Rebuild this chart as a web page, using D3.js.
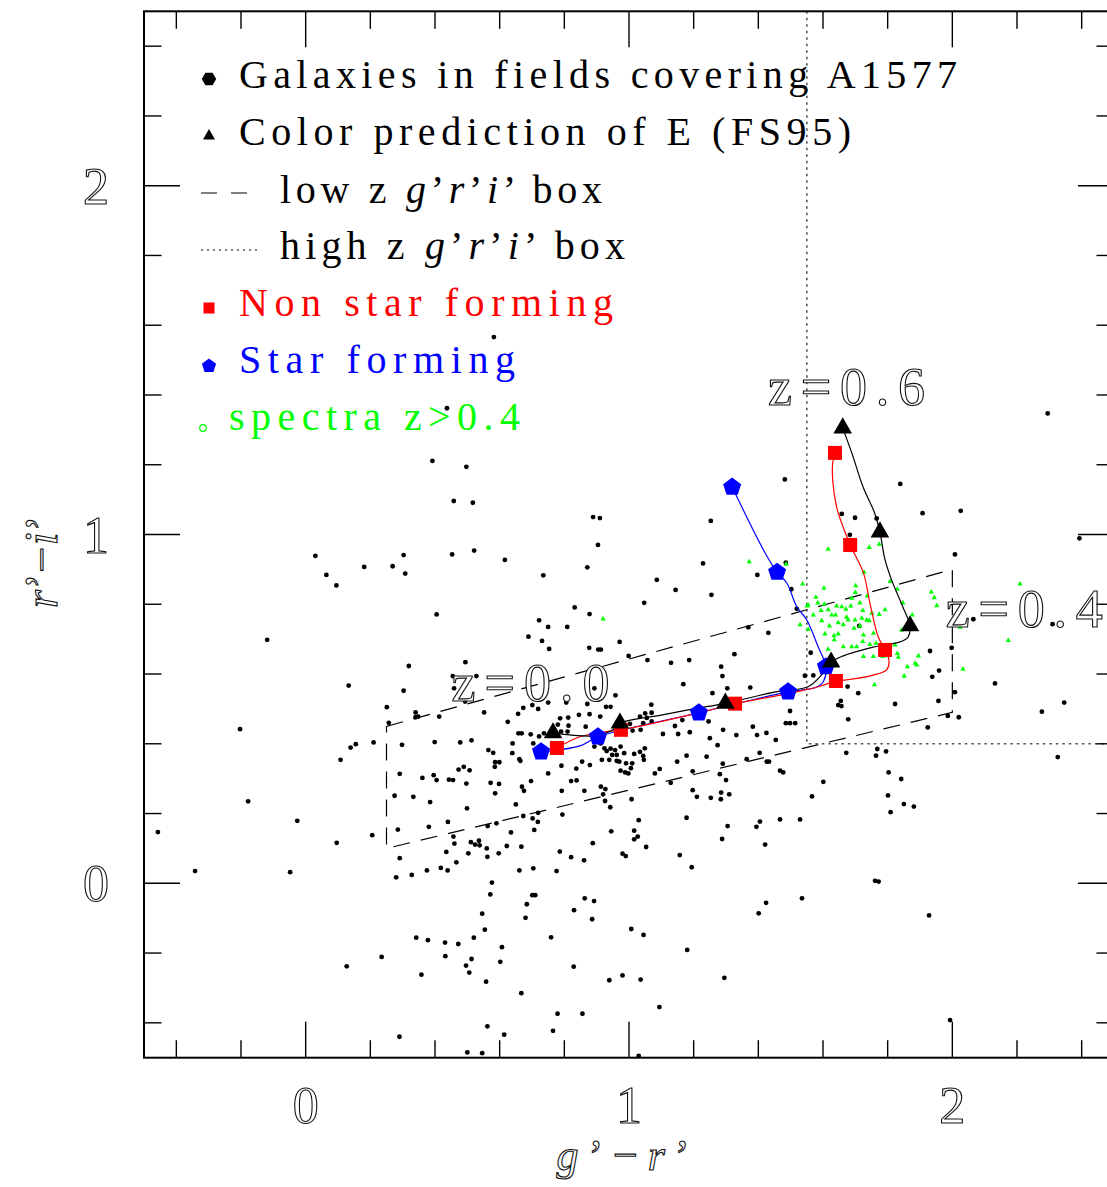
<!DOCTYPE html>
<html><head><meta charset="utf-8">
<script src="https://cdn.jsdelivr.net/npm/d3@7"></script>
<style>body{margin:0;background:#fff}</style>
</head><body><svg id="c" width="1107" height="1187"></svg>
<script>
// ---------------- data (g'-r', r'-i') ----------------
const galaxies = [
[0.437,1.362],[0.392,1.211],[0.497,1.194],[0.458,1.096],[0.517,1.091],[0.030,0.939],[0.303,0.941],[0.453,0.943],[0.521,0.954],[0.181,0.907],[0.269,0.909],[0.064,0.884],[0.308,0.888],[0.095,0.854],[0.405,0.771],[-0.119,0.698],[0.319,0.623],[0.494,0.634],[0.133,0.567],[0.303,0.552],[0.455,0.594],[0.459,0.559],[0.528,0.594],
[0.251,0.505],[0.493,0.521],[0.340,0.490],[0.340,0.476],[0.348,0.478],[0.413,0.478],[0.257,0.460],[-0.203,0.442],[0.210,0.404],[0.155,0.399],[0.139,0.389],[0.298,0.397],[0.399,0.405],[0.478,0.404],[0.513,0.410],[0.108,0.354],[0.291,0.314],[0.361,0.302],[0.396,0.310],[0.405,0.296],[0.443,0.297],[0.456,0.296],[0.473,0.326],[0.489,0.334],[0.507,0.324],[0.497,0.286],[-0.178,0.235],[0.275,0.251],[0.333,0.248],[0.385,0.233],[0.499,0.215],[-0.026,0.179],[-0.457,0.147],[0.096,0.116],[0.206,0.138],[0.285,0.154],[0.381,0.162],[0.440,0.176],[0.457,0.134],[0.460,0.114],[0.511,0.118],[0.524,0.111],[0.536,0.122],[0.538,0.109],[0.435,0.090],[0.503,0.086],[0.291,0.072],[0.466,0.060],[-0.342,0.035],[-0.048,0.032],[0.280,0.017],[0.328,0.024],[0.375,0.037],[0.418,0.044],[0.439,0.037],[0.342,-0.156],[0.378,-0.163],[0.431,-0.170],[0.472,-0.174],[0.520,-0.156],[0.235,-0.211],[0.432,-0.209],[0.513,-0.217],[0.127,-0.238],[0.496,-0.236],[0.506,-0.256],[0.358,-0.262],[0.290,-0.440],[0.500,-0.485],
[0.616,0.927],[0.871,0.906],[1.229,0.917],[0.735,0.883],[1.086,0.870],[1.397,0.884],[1.144,0.841],[1.255,0.827],[1.047,0.804],[0.832,0.791],[0.878,0.772],[0.722,0.754],[0.750,0.735],[0.809,0.735],[0.689,0.707],[0.731,0.695],[1.369,0.734],[1.431,0.718],[0.971,0.692],[0.753,0.672],[0.877,0.675],[0.905,0.670],[0.913,0.670],[0.999,0.652],[1.057,0.640],[1.130,0.632],[1.186,0.640],[1.326,0.657],[1.285,0.621],[1.289,0.594],[0.893,0.559],[1.168,0.571],[1.304,0.559],[1.375,0.561],[1.544,0.595],
[0.552,0.490],[0.673,0.503],[0.701,0.511],[0.719,0.500],[0.750,0.518],[0.806,0.518],[0.845,0.483],[0.871,0.514],[0.878,0.485],[0.958,0.539],[0.929,0.506],[0.943,0.506],[1.069,0.512],[1.050,0.487],[0.657,0.486],[0.625,0.463],[0.812,0.475],[0.787,0.473],[0.780,0.455],[0.813,0.452],[0.866,0.449],[0.911,0.478],[1.034,0.478],[1.055,0.474],[1.070,0.489],[1.003,0.457],[1.044,0.459],[1.070,0.464],[1.142,0.451],[1.165,0.468],[1.246,0.464],
[0.658,0.430],[0.668,0.430],[0.696,0.427],[0.722,0.421],[0.737,0.430],[0.790,0.435],[0.810,0.435],[1.011,0.438],[1.036,0.440],[1.105,0.428],[1.152,0.428],[1.188,0.433],[1.250,0.416],[1.291,0.440],[1.332,0.425],[1.383,0.449],[1.396,0.425],[1.425,0.431],[1.454,0.411],[1.498,0.494],[1.485,0.459],[1.498,0.459],[1.514,0.459],
[0.640,0.401],[0.704,0.401],[0.565,0.382],[0.580,0.374],[0.639,0.373],[0.661,0.356],[0.664,0.351],[0.586,0.347],[0.599,0.347],[0.585,0.334],[0.893,0.392],[0.912,0.401],[0.924,0.387],[0.931,0.379],[0.943,0.386],[0.948,0.368],[0.957,0.382],[0.962,0.368],[0.974,0.392],[0.985,0.373],[1.016,0.371],[1.034,0.377],[1.044,0.365],[1.049,0.387],[1.046,0.354],[0.916,0.354],[0.939,0.354],[0.962,0.351],[0.970,0.349],[0.991,0.344],[1.010,0.344],[0.855,0.349],[0.879,0.339],[0.837,0.329],[0.791,0.337],[0.750,0.315],[0.988,0.318],[0.998,0.315],[1.006,0.330],[0.974,0.323],[1.095,0.328],[1.080,0.315],[1.149,0.349],[1.240,0.363],[1.178,0.366],[1.274,0.396],[1.197,0.321],[1.290,0.343],[1.281,0.313],[1.300,0.296],[1.364,0.356],[1.404,0.374],[1.426,0.349],[1.433,0.349],[1.467,0.323],[1.477,0.318],
[0.572,0.288],[0.598,0.285],[0.669,0.277],[0.675,0.265],[0.697,0.293],[0.821,0.293],[0.838,0.295],[0.792,0.265],[0.862,0.265],[0.913,0.277],[0.927,0.270],[0.920,0.255],[0.586,0.258],[0.650,0.226],[0.926,0.236],[1.008,0.241],[0.942,0.218],[1.129,0.288],[1.197,0.267],[1.210,0.248],[1.253,0.245],[1.284,0.241],[1.285,0.260],[1.310,0.255],[0.719,0.202],[0.673,0.193],[0.702,0.186],[1.178,0.188],[1.467,0.183],[1.529,0.183],[1.485,0.919],[1.502,0.843],[1.519,0.787],[1.258,0.545],
[0.563,0.164],[0.590,0.172],[0.718,0.176],[0.707,0.153],[0.635,0.146],[0.560,0.100],[0.562,0.076],[0.597,0.086],[0.622,0.107],[0.667,0.105],[0.794,0.197],[0.945,0.149],[0.888,0.115],[0.786,0.091],[0.821,0.075],[0.861,0.066],[1.030,0.181],[1.016,0.151],[1.016,0.126],[1.027,0.134],[1.053,0.104],[0.980,0.085],[0.990,0.078],[1.157,0.081],[1.194,0.046],[1.288,0.127],[1.305,0.164],[1.394,0.162],[1.405,0.177],[1.421,0.111],[0.661,0.037],[0.704,0.043],[0.776,0.035],[0.576,0.002],[0.571,-0.032],[0.701,-0.034],[0.710,-0.034],[0.684,-0.060],[0.680,-0.099],[0.546,-0.087],[0.554,-0.133],[0.863,-0.043],[0.892,-0.051],[0.830,-0.077],[0.886,-0.103],[0.759,-0.155],[1.007,-0.131],[1.045,-0.148],[1.180,-0.191],[1.401,-0.086],[1.424,-0.056],[1.535,-0.043],[0.607,-0.183],[0.602,-0.225],[0.558,-0.282],[0.829,-0.239],[0.939,-0.278],[0.980,-0.264],[1.036,-0.276],[1.295,-0.271],[0.667,-0.315],[1.094,-0.355],[0.779,-0.374],[0.856,-0.374],[0.765,-0.423],[0.562,-0.410],[0.614,-0.434],[0.546,-0.487],[1.030,-0.495],
[1.655,0.523],[1.647,0.511],[1.657,0.508],[1.678,0.470],[1.823,0.514],[1.957,0.523],[1.986,0.480],[2.020,0.476],[1.924,0.447],[2.277,0.492],[2.346,0.518],[1.672,0.374],[1.768,0.385],[1.764,0.366],[1.795,0.378],[2.326,0.362],[1.803,0.318],[1.842,0.299],[1.601,0.291],[1.566,0.249],[1.801,0.252],[1.850,0.227],[1.881,0.220],[1.809,0.204],[1.761,0.007],[1.772,0.005],[1.928,-0.092],[1.993,-0.392],
[2.295,1.347],[1.482,1.158],[1.839,1.145],[1.253,1.039],[1.658,1.059],[1.699,1.048],[1.766,1.046],[1.908,1.061],[2.026,1.068],[1.683,0.999],[2.008,0.943],[1.712,0.738],[2.065,0.757],[2.310,0.743],[1.998,0.675],[1.931,0.666],[1.562,0.661],[1.570,0.596],[1.959,0.610],[1.938,0.592],[2.008,0.548],[2.132,0.573],[1.676,0.564],[1.709,0.545],[2.393,0.989],
[0.582,1.566],[0.889,1.050],[0.910,1.047],[0.904,0.970]
];

const spectraHighZ = [
[1.372,0.922],[1.486,0.915],[1.616,0.958],[1.696,0.958],[1.743,0.963],[1.774,0.972],[1.537,0.858],[1.603,0.846],[1.701,0.853],[1.727,0.892],[1.808,0.865],[1.830,0.843],[1.700,0.834],[1.737,0.824],[1.578,0.820],[1.551,0.795],[1.584,0.804],[1.604,0.800],[1.642,0.795],[1.671,0.786],[1.686,0.795],[1.714,0.804],[1.723,0.782],[1.751,0.774],[1.774,0.771],[1.792,0.784],[1.847,0.804],[1.935,0.835],[1.944,0.819],[1.952,0.796],[1.876,0.769],[1.570,0.769],[1.594,0.782],[1.639,0.769],[1.673,0.763],[1.699,0.755],[1.720,0.760],[1.735,0.755],[1.529,0.741],[1.596,0.753],[1.620,0.738],[1.647,0.747],[1.663,0.741],[1.678,0.755],[1.696,0.731],[1.714,0.738],[1.743,0.753],[1.554,0.728],[1.606,0.715],[1.634,0.710],[1.647,0.715],[1.725,0.712],[1.756,0.717],[1.635,0.698],[1.663,0.678],[1.689,0.678],[1.704,0.678],[1.723,0.693],[1.745,0.685],[1.764,0.688],[1.823,0.683],[1.843,0.726],[1.851,0.731],[1.830,0.659],[1.616,0.671],[1.725,0.650],[1.756,0.650],[1.785,0.650],[1.797,0.659],[1.833,0.648],[1.895,0.652],[1.885,0.631],[1.890,0.626],[1.861,0.621],[1.851,0.594],[1.759,0.569],[2.024,0.734],[2.033,0.614],[2.173,0.696],[2.209,0.858],[1.616,0.784],[1.627,0.769],[1.689,0.817],[1.658,0.793],[0.920,0.758],[1.554,0.798]
];

// E (FS95) colour prediction, markers at z = 0.0 ... 0.6 and its track
const eMarkers = [[0.765,0.431],[0.972,0.459],[1.298,0.516],[1.625,0.634],[1.869,0.738],[1.776,1.007],[1.661,1.305]];
const eTrack = [[0.765,0.431],[0.900,0.423],[0.950,0.440],[0.972,0.459],[1.100,0.482],[1.200,0.500],[1.298,0.516],[1.450,0.548],[1.555,0.564],[1.605,0.608],[1.625,0.634],[1.663,0.652],[1.703,0.664],[1.755,0.677],[1.838,0.692],[1.863,0.706],[1.869,0.738],[1.847,0.792],[1.812,0.870],[1.792,0.927],[1.776,1.007],[1.760,1.061],[1.724,1.136],[1.689,1.234],[1.661,1.305]];
// Non star forming
const nsfMarkers = [[0.777,0.388],[0.975,0.440],[1.328,0.515],[1.640,0.580],[1.792,0.669],[1.684,0.970],[1.637,1.234]];
const nsfTrack = [[0.777,0.388],[0.848,0.420],[0.931,0.435],[0.975,0.440],[1.209,0.487],[1.328,0.515],[1.498,0.545],[1.591,0.565],[1.640,0.580],[1.673,0.583],[1.755,0.597],[1.797,0.612],[1.804,0.640],[1.792,0.669],[1.771,0.706],[1.745,0.804],[1.725,0.890],[1.684,0.970],[1.662,1.022],[1.642,1.079],[1.630,1.156],[1.630,1.205],[1.637,1.234]];
// Star forming
const sfMarkers = [[0.728,0.377],[0.904,0.420],[1.216,0.489],[1.492,0.549],[1.609,0.621],[1.458,0.892],[1.319,1.136]];
const sfTrack = [[0.728,0.377],[0.848,0.394],[0.904,0.420],[1.216,0.489],[1.350,0.519],[1.492,0.549],[1.580,0.562],[1.601,0.578],[1.609,0.621],[1.585,0.678],[1.550,0.755],[1.519,0.793],[1.488,0.861],[1.458,0.892],[1.421,0.947],[1.319,1.136]];

// selection boxes
const lowZBox = [[0.25,0.45],[2.0,0.90],[2.0,0.49],[0.25,0.10]];
const highZBox = [[1.55,2.5],[1.55,0.40],[2.5,0.40]];

const xTicks = [-0.4,-0.2,0,0.2,0.4,0.6,0.8,1,1.2,1.4,1.6,1.8,2,2.2,2.4];
const yTicks = [-0.4,-0.2,0,0.2,0.4,0.6,0.8,1,1.2,1.4,1.6,1.8,2,2.2,2.4];
const xTickLabels = [0,1,2];
const yTickLabels = [0,1,2];
const zLabels = [{t:"z=0.6", x:1.43, y:1.370, w:157},{t:"z=0.4", x:1.98, y:0.734, w:157},{t:"z=0.0", x:0.451, y:0.524, w:158}];

// ---------------- drawing ----------------
const svg = d3.select("#c");
const x = d3.scaleLinear().domain([-0.5,2.5]).range([144,1114]);
const y = d3.scaleLinear().domain([-0.5,2.5]).range([1057.7,11.3]);
const SERIF = "'Liberation Serif','DejaVu Serif',serif";

svg.append("rect").attr("width",1107).attr("height",1187).attr("fill","#fff");
svg.append("clipPath").attr("id","pa").append("rect")
  .attr("x",x(-0.5)).attr("y",y(2.5)).attr("width",x(2.5)-x(-0.5)).attr("height",y(-0.5)-y(2.5));
const plot = svg.append("g").attr("clip-path","url(#pa)");

// boxes
const line = d3.line().x(d=>x(d[0])).y(d=>y(d[1]));
plot.append("path").attr("d", line(lowZBox)+"Z").attr("fill","none")
  .attr("stroke","#000").attr("stroke-width",1.2).attr("stroke-dasharray","17,11");
plot.append("path").attr("d", line(highZBox)).attr("fill","none")
  .attr("stroke","#555").attr("stroke-width",1.6).attr("stroke-dasharray","2.5,4");

// galaxies
plot.append("g").selectAll("circle").data(galaxies).join("circle")
  .attr("cx",d=>x(d[0])).attr("cy",d=>y(d[1])).attr("r",2.4).attr("fill","#000");

// spectra z>0.4
const tri = d3.symbol().type(d3.symbolTriangle);
plot.append("g").selectAll("path").data(spectraHighZ).join("path")
  .attr("transform",d=>`translate(${x(d[0])},${y(d[1])})`)
  .attr("d",tri.size(12)()).attr("fill","#00ff00");

// tracks
const curve = d3.line().x(d=>x(d[0])).y(d=>y(d[1])).curve(d3.curveCatmullRom.alpha(0.5));
plot.append("path").attr("d",curve(sfTrack)).attr("fill","none").attr("stroke","#0000ff").attr("stroke-width",1.2);
plot.append("path").attr("d",curve(nsfTrack)).attr("fill","none").attr("stroke","#ff0000").attr("stroke-width",1.2);
plot.append("path").attr("d",curve(eTrack)).attr("fill","none").attr("stroke","#000").attr("stroke-width",1.2);

// polygon symbol helper
function polygon(n, rot){
  return { draw(ctx, size){ const r=Math.sqrt(size);
    for(let i=0;i<n;i++){ const a=rot+i*2*Math.PI/n; const px=r*Math.cos(a), py=r*Math.sin(a);
      if(i===0) ctx.moveTo(px,py); else ctx.lineTo(px,py);} ctx.closePath(); } };
}
const pentagon = polygon(5,-Math.PI/2);
const hexagon = polygon(6,0);

plot.append("g").selectAll("path").data(sfMarkers).join("path")
  .attr("transform",d=>`translate(${x(d[0])},${y(d[1])})`)
  .attr("d",d3.symbol().type(pentagon).size(90)()).attr("fill","#0000ff");
plot.append("g").selectAll("rect").data(nsfMarkers).join("rect")
  .attr("x",d=>x(d[0])-7).attr("y",d=>y(d[1])-7).attr("width",14).attr("height",14).attr("fill","#ff0000");
plot.append("g").selectAll("path").data(eMarkers).join("path")
  .attr("transform",d=>`translate(${x(d[0])},${y(d[1])})`)
  .attr("d",tri.size(150)()).attr("fill","#000");

// z labels
plot.append("g").selectAll("text").data(zLabels).join("text")
  .attr("x",d=>x(d.x)).attr("y",d=>y(d.y)).text(d=>d.t)
  .attr("font-family",SERIF).attr("font-size",54)
  .attr("textLength",d=>d.w).attr("lengthAdjust","spacing")
  .attr("fill","#fff").attr("stroke","#111").attr("stroke-width",1.1);

// frame and ticks
svg.append("rect").attr("x",x(-0.5)).attr("y",y(2.5)).attr("width",x(2.5)-x(-0.5)).attr("height",y(-0.5)-y(2.5))
  .attr("fill","none").attr("stroke","#000").attr("stroke-width",2);
const tk = svg.append("g").attr("stroke","#000").attr("stroke-width",1.4);
const isMajor = v => Math.abs(v-Math.round(v))<1e-6;
xTicks.forEach(v=>{ const L = isMajor(v)?36:17.5;
  tk.append("line").attr("x1",x(v)).attr("x2",x(v)).attr("y1",y(-0.5)).attr("y2",y(-0.5)-L);
  tk.append("line").attr("x1",x(v)).attr("x2",x(v)).attr("y1",y(2.5)).attr("y2",y(2.5)+L);
});
yTicks.forEach(v=>{ const L = isMajor(v)?36:17.5;
  tk.append("line").attr("y1",y(v)).attr("y2",y(v)).attr("x1",x(-0.5)).attr("x2",x(-0.5)+L);
  tk.append("line").attr("y1",y(v)).attr("y2",y(v)).attr("x1",x(2.5)).attr("x2",x(2.5)-L);
});

// tick labels
const lblStyle = s => s.attr("font-family",SERIF).attr("font-size",52).attr("text-anchor","middle")
  .attr("fill","#fff").attr("stroke","#111").attr("stroke-width",1.1);
svg.append("g").selectAll("text").data(xTickLabels).join("text")
  .attr("x",d=>x(d)).attr("y",1123).text(d=>d).call(lblStyle);
svg.append("g").selectAll("text").data(yTickLabels).join("text")
  .attr("x",96).attr("y",d=>y(d)+18).text(d=>d).call(lblStyle);

// axis titles
const xt = svg.append("text").attr("x",623).attr("y",1170).attr("text-anchor","middle")
  .attr("font-family",SERIF).attr("font-size",44).attr("fill","#fff").attr("stroke","#111").attr("stroke-width",1.1)
  .attr("textLength",133).attr("lengthAdjust","spacing");
xt.append("tspan").attr("font-style","italic").text("g");
xt.append("tspan").text("’−");
xt.append("tspan").attr("font-style","italic").text("r");
xt.append("tspan").text("’");
const yt = svg.append("text").attr("transform","translate(57,562) rotate(-90)").attr("text-anchor","middle")
  .attr("font-family",SERIF).attr("font-size",46).attr("fill","#fff").attr("stroke","#111").attr("stroke-width",1.1)
  .attr("textLength",92).attr("lengthAdjust","spacing");
yt.append("tspan").attr("font-style","italic").text("r");
yt.append("tspan").text("’−");
yt.append("tspan").attr("font-style","italic").text("i");
yt.append("tspan").text("’");

// legend
const leg = svg.append("g").attr("font-family",SERIF).attr("font-size",40);
leg.append("path").attr("transform","translate(209,79)").attr("d",d3.symbol().type(hexagon).size(52)()).attr("fill","#000");
leg.append("path").attr("transform","translate(209,136)").attr("d",tri.size(62)()).attr("fill","#000");
leg.append("line").attr("x1",201).attr("x2",247).attr("y1",193).attr("y2",193).attr("stroke","#000").attr("stroke-width",1.2).attr("stroke-dasharray","16,14");
leg.append("line").attr("x1",201).attr("x2",258).attr("y1",250).attr("y2",250).attr("stroke","#000").attr("stroke-width",1.2).attr("stroke-dasharray","2,4");
leg.append("rect").attr("x",203.5).attr("y",302.5).attr("width",11).attr("height",11).attr("fill","#ff0000");
leg.append("path").attr("transform","translate(209,366)").attr("d",d3.symbol().type(pentagon).size(56)()).attr("fill","#0000ff");
leg.append("circle").attr("cx",203).attr("cy",428).attr("r",3.3).attr("fill","none").attr("stroke","#00ff00").attr("stroke-width",1.2);

const legendRows = [
  {y:88, x:239, w:718, color:"#000", parts:[["Galaxies in fields covering A1577",0]]},
  {y:145, x:239, w:612, color:"#000", parts:[["Color prediction of E (FS95)",0]]},
  {y:203, x:280, w:322, color:"#000", parts:[["low z ",0],["g",1],["’",0],["r",1],["’",0],["i",1],["’ box",0]]},
  {y:259, x:280, w:345, color:"#000", parts:[["high z ",0],["g",1],["’",0],["r",1],["’",0],["i",1],["’ box",0]]},
  {y:316, x:239, w:374, color:"#ff0000", parts:[["Non star forming",0]]},
  {y:373, x:239, w:276, color:"#0000ff", parts:[["Star forming",0]]},
  {y:430, x:229, w:291, color:"#00ff00", parts:[["spectra z>0.4",0]]}
];
legendRows.forEach(r=>{
  const t = leg.append("text").attr("x",r.x).attr("y",r.y).attr("fill",r.color)
    .attr("textLength",r.w).attr("lengthAdjust","spacing").attr("xml:space","preserve");
  r.parts.forEach(p=>t.append("tspan").attr("font-style",p[1]?"italic":"normal").text(p[0]));
});
</script></body></html>
